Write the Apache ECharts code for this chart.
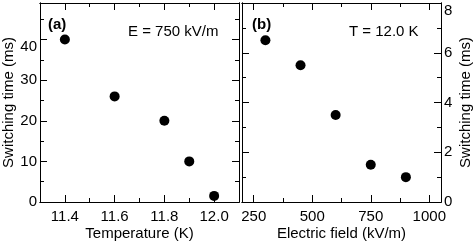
<!DOCTYPE html>
<html><head><meta charset="utf-8">
<script src="https://cdn.jsdelivr.net/npm/echarts@6/dist/echarts.min.js"></script>
<style>html,body{margin:0;padding:0;background:#fff}#c{width:474px;height:248px}</style>
</head><body><div id="c"></div>
<script>
// Panel (a): switching time vs temperature at E = 750 kV/m
const tempK = [11.4, 11.6, 11.8, 11.9, 12.0];
const timeA = [40, 26, 20, 10, 1.5];
// Panel (b): switching time vs electric field at T = 12.0 K
const fieldKVm = [300, 450, 600, 750, 900];
const timeB = [6.5, 5.5, 3.5, 1.5, 1.0];
// ticks
const xMajorA = [11.4, 11.6, 11.8, 12.0];
const xMinorA = [11.5, 11.7, 11.9];
const yMajorA = [0, 10, 20, 30, 40];
const yMinorA = [5, 15, 25, 35, 45];
const xMajorB = [250, 500, 750, 1000];
const xMinorB = [375, 625, 875];
const yMajorB = [0, 2, 4, 6, 8];
const yMinorB = [1, 3, 5, 7];

const FONT = "'Liberation Sans', Arial, Helvetica, sans-serif";
const FS = 15;

const xAxes = [], yAxes = [];
function axisBase(grid, pos, min, max, ticks, len, labels, extra) {
  return Object.assign({
    type: 'value', gridIndex: grid, position: pos, min: min, max: max,
    splitLine: {show: false},
    axisLine: {show: true, onZero: false, lineStyle: {color: '#000', width: 1}},
    axisTick: {show: true, inside: true, length: len, customValues: ticks, lineStyle: {color: '#000', width: 1}},
    axisLabel: labels ? Object.assign({show: true, customValues: labels, color: '#000', fontSize: FS, fontFamily: FONT}, extra && extra.label || {}) : {show: false},
    nameTextStyle: {color: '#000', fontSize: FS, fontFamily: FONT}
  }, extra && extra.axis || {});
}
function addX(grid, min, max, major, minor, name, fmt) {
  const idx = xAxes.length;
  xAxes.push(axisBase(grid, 'bottom', min, max, major, 7, major, {label: {margin: 7, formatter: fmt}, axis: {name: name, nameLocation: 'middle', nameGap: 24, nameMoveOverlap: false}}));
  xAxes.push(axisBase(grid, 'bottom', min, max, minor, 4, null));
  xAxes.push(axisBase(grid, 'top', min, max, major, 7, null));
  xAxes.push(axisBase(grid, 'top', min, max, minor, 4, null));
  return idx;
}
function addY(grid, min, max, major, minor, labelSide, name, gap) {
  const sides = ['left', 'right'];
  let mainIdx = yAxes.length;
  sides.forEach(function (s) {
    const lab = s === labelSide;
    if (lab) mainIdx = yAxes.length;
    yAxes.push(axisBase(grid, s, min, max, major, 7, lab ? major : null,
      lab ? {label: {margin: 3, verticalAlignMaxLabel: 'top', formatter: function (v) { return String(v); }}, axis: {name: name, nameLocation: 'middle', nameGap: gap, nameRotate: 90, nameMoveOverlap: false}} : null));
    yAxes.push(axisBase(grid, s, min, max, minor, 4, null));
  });
  return mainIdx;
}
const xa = addX(0, 11.3, 12.1, xMajorA, xMinorA, 'Temperature (K)', function (v) { return Number(v).toFixed(1); });
const ya = addY(0, 0, 49, yMajorA, yMinorA, 'left', 'Switching time (ms)', 24);
const xb = addX(1, 200, 1050, xMajorB, xMinorB, 'Electric field (kV/m)', function (v) { return String(Math.round(v)); });
const yb = addY(1, 0, 8, yMajorB, yMinorB, 'right', 'Switching time (ms)', 17);

const chart = echarts.init(document.getElementById('c'), null, {renderer: 'canvas'});
chart.setOption({
  animation: false,
  backgroundColor: '#fff',
  grid: [
    {left: 39, top: 3, width: 200, height: 199},
    {left: 242, top: 3, width: 201, height: 199}
  ],
  xAxis: xAxes,
  yAxis: yAxes,
  series: [
    {type: 'scatter', xAxisIndex: xa, yAxisIndex: ya, symbol: 'circle', symbolSize: 10,
     itemStyle: {color: '#000', opacity: 1}, data: tempK.map(function (t, i) { return [t, timeA[i]]; })},
    {type: 'scatter', xAxisIndex: xb, yAxisIndex: yb, symbol: 'circle', symbolSize: 10,
     itemStyle: {color: '#000', opacity: 1}, data: fieldKVm.map(function (e, i) { return [e, timeB[i]]; })}
  ],
  graphic: [
    {type: 'text', x: 48, y: 25, style: {text: '(a)', fill: '#000', fontSize: FS, fontWeight: 'bold', fontFamily: FONT, textAlign: 'left', textVerticalAlign: 'middle'}},
    {type: 'text', x: 128, y: 32, style: {text: 'E = 750 kV/m', fill: '#000', fontSize: FS, fontFamily: FONT, textAlign: 'left', textVerticalAlign: 'middle'}},
    {type: 'text', x: 252, y: 25, style: {text: '(b)', fill: '#000', fontSize: FS, fontWeight: 'bold', fontFamily: FONT, textAlign: 'left', textVerticalAlign: 'middle'}},
    {type: 'text', x: 349, y: 32, style: {text: 'T = 12.0 K', fill: '#000', fontSize: FS, fontFamily: FONT, textAlign: 'left', textVerticalAlign: 'middle'}}
  ]
});
</script></body></html>
